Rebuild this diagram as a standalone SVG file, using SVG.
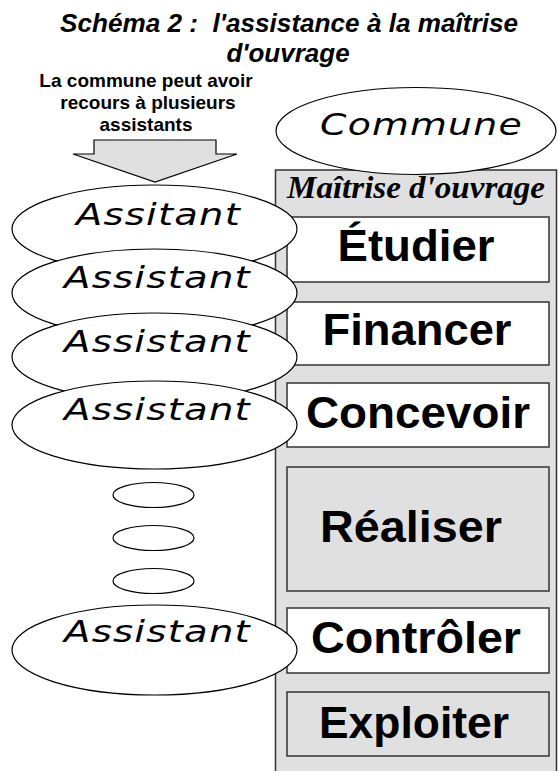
<svg xmlns="http://www.w3.org/2000/svg" width="558" height="771" viewBox="0 0 558 771">
<style>
.title{font-family:"Liberation Sans",Arial,sans-serif;font-weight:bold;font-style:italic;font-size:26px;fill:#000}
.sub{font-family:"Liberation Sans",Arial,sans-serif;font-weight:bold;font-size:19px;fill:#000}
.ell{fill:#fff;stroke:#000;stroke-width:1.2}
.etext{font-family:"DejaVu Sans","Liberation Sans",sans-serif;font-style:italic;font-size:31px;letter-spacing:1px;fill:#000}
.panel{fill:#e0e0e0;stroke:#333;stroke-width:1.5}
.box{fill:#fff;stroke:#333;stroke-width:1.5}
.gbox{fill:#e0e0e0;stroke:#333;stroke-width:1.5}
.btext{font-family:"Liberation Sans",Arial,sans-serif;font-weight:bold;font-size:44px;fill:#000}
.mo{font-family:"Liberation Serif","Times New Roman",serif;font-weight:bold;font-style:italic;font-size:32px;fill:#000}
</style>
<rect width="558" height="771" fill="#fff"/>
<g id="title">
<text class="title" x="289" y="32" text-anchor="middle" xml:space="preserve" textLength="458" lengthAdjust="spacingAndGlyphs">Schéma 2 :  l'assistance à la maîtrise</text>
<text class="title" x="288" y="62" text-anchor="middle">d'ouvrage</text>
</g>
<g id="note">
<text class="sub" x="146" y="87" text-anchor="middle">La commune peut avoir</text>
<text class="sub" x="148" y="109" text-anchor="middle">recours à plusieurs</text>
<text class="sub" x="146" y="131" text-anchor="middle">assistants</text>
</g>
<g id="connectors">
<polygon points="94,140 216,140 216,154 237,154 155,182 73,154 94,154" fill="#e0e0e0" stroke="#000" stroke-width="1.2"/>
</g>
<g id="maitrise-ouvrage">
<rect class="panel" x="275.5" y="170" width="281" height="610"/>
<text class="mo" x="287" y="198" textLength="258" lengthAdjust="spacingAndGlyphs">Maîtrise d'ouvrage</text>
</g>
<g id="etudier">
<rect class="box" x="287" y="217" width="262" height="65"/>
<text class="btext" x="416" y="261" text-anchor="middle" textLength="157" lengthAdjust="spacingAndGlyphs">Étudier</text>
</g>
<g id="financer">
<rect class="box" x="287" y="302" width="262" height="63"/>
<text class="btext" x="417" y="345" text-anchor="middle" textLength="189" lengthAdjust="spacingAndGlyphs">Financer</text>
</g>
<g id="concevoir">
<rect class="box" x="287" y="383" width="262" height="64"/>
<text class="btext" x="418" y="428" text-anchor="middle" textLength="224" lengthAdjust="spacingAndGlyphs">Concevoir</text>
</g>
<g id="realiser">
<rect class="gbox" x="287" y="467" width="262" height="124"/>
<text class="btext" x="411" y="542" text-anchor="middle" textLength="182" lengthAdjust="spacingAndGlyphs">Réaliser</text>
</g>
<g id="controler">
<rect class="box" x="287" y="608" width="262" height="65"/>
<text class="btext" x="416" y="653" text-anchor="middle" textLength="210" lengthAdjust="spacingAndGlyphs">Contrôler</text>
</g>
<g id="exploiter">
<rect class="gbox" x="287" y="692" width="262" height="64"/>
<text class="btext" x="414" y="738" text-anchor="middle" textLength="190" lengthAdjust="spacingAndGlyphs">Exploiter</text>
</g>
<g id="commune">
<ellipse class="ell" cx="416" cy="131" rx="140" ry="43.5"/>
<text class="etext" x="320" y="135" font-size="34" letter-spacing="0" textLength="203" lengthAdjust="spacingAndGlyphs">Commune</text>
</g>
<g id="assistant-1">
<ellipse class="ell" cx="154.5" cy="229" rx="142.5" ry="44"/>
<text class="etext" x="76" y="225" textLength="165" lengthAdjust="spacingAndGlyphs">Assitant</text>
</g>
<g id="assistant-2">
<ellipse class="ell" cx="154.5" cy="293" rx="142.5" ry="44"/>
<text class="etext" x="64" y="288" textLength="187" lengthAdjust="spacingAndGlyphs">Assistant</text>
</g>
<g id="assistant-3">
<ellipse class="ell" cx="154.5" cy="357" rx="142.5" ry="44"/>
<text class="etext" x="64" y="352" textLength="187" lengthAdjust="spacingAndGlyphs">Assistant</text>
</g>
<g id="assistant-4">
<ellipse class="ell" cx="154.5" cy="425" rx="142.5" ry="44"/>
<text class="etext" x="64" y="420" textLength="187" lengthAdjust="spacingAndGlyphs">Assistant</text>
</g>
<g id="dot-1"><ellipse class="ell" cx="153.5" cy="495" rx="40.5" ry="12.5"/></g>
<g id="dot-2"><ellipse class="ell" cx="153.5" cy="538" rx="40.5" ry="12.5"/></g>
<g id="dot-3"><ellipse class="ell" cx="153.5" cy="581" rx="40.5" ry="12.5"/></g>
<g id="assistant-5">
<ellipse class="ell" cx="154.5" cy="650" rx="142.5" ry="45"/>
<text class="etext" x="64" y="642" textLength="187" lengthAdjust="spacingAndGlyphs">Assistant</text>
</g>
</svg>
